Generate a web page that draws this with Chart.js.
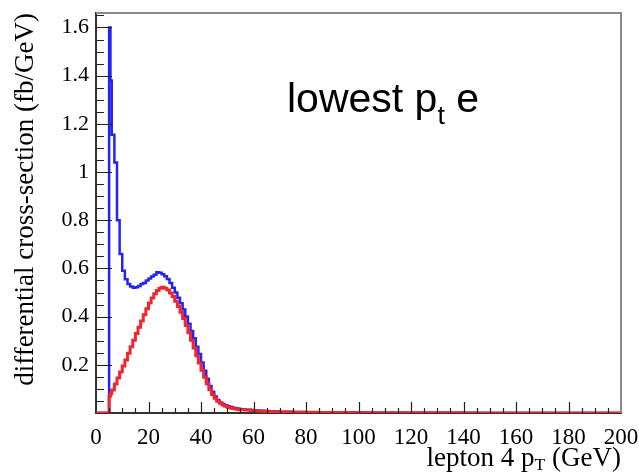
<!DOCTYPE html>
<html>
<head>
<meta charset="utf-8">
<script src="https://cdn.jsdelivr.net/npm/chart.js@4.4.1/dist/chart.umd.min.js"></script>
<style>
  html, body { margin: 0; padding: 0; background: #fff; }
  #wrap { position: relative; width: 639px; height: 476px; }
  canvas { position: absolute; left: 0; top: 0; }
  .note { position: absolute; font-family: "Liberation Sans", Arial, sans-serif; color: #000; white-space: nowrap; }
  .xt { position: absolute; font-family: "Liberation Serif", "Times New Roman", serif; color: #000; white-space: nowrap; }
  sub { font-size: 0.65em; vertical-align: baseline; position: relative; }
  .note sub { top: 0.45em; }
  .xt sub { top: 0.25em; }
</style>
</head>
<body>
<div id="wrap">
  <canvas id="c" width="639" height="476"></canvas>
  <div class="note" id="note" style="left:287px; top:77px; font-size:41px; line-height:42px;">lowest p<sub>t</sub> e</div>
  <div class="xt" id="xtitle" style="right:18px; top:442px; font-size:27px; line-height:30px;">lepton 4 p<sub>T</sub> (GeV)</div>
</div>
<script>
// bin lower edges (GeV)
const binLow = [
  0,1,2,3,4,5,5.5,6,7,8,9,10,11,12,13,14,15,16,17,18,19,
  20,21,22,23,24,25,26,27,28,29,30,31,32,33,34,35,36,37,38,39,
  40,41,42,43,44,45,46,47,48,49,50,51,52,53,54,55,56,57,58,59,
  60,61,62,63,64,65,66,67,68,69,
  70,75,80,85,90,95,100,105,110,115,120,125,130,135,140,145,150,155,160,165,170,175,180,185,190,195
];
const xMax = 200;

// blue histogram (all)
const blueValues = [
  0,0,0,0,0,1.60,1.38,1.155,1.04,0.80,
  0.66,0.59,0.555,0.535,0.525,0.52,0.522,0.527,0.535,0.54,0.55,
  0.558,0.566,0.574,0.584,0.582,0.576,0.567,0.556,0.54,0.52,
  0.50,0.478,0.455,0.43,0.40,0.37,0.34,0.31,0.275,0.245,
  0.21,0.175,0.142,0.112,0.088,0.068,0.054,0.044,0.037,0.032,
  0.028,0.025,0.022,0.02,0.018,0.016,0.015,0.014,0.013,0.012,
  0.011,0.010,0.0095,0.009,0.0085,0.008,0.0075,0.007,0.0065,0.006,
  0.0052,0.0042,0.0035,0.003,0.0025,0.0021,0.0018,0.0015,0.0013,0.0011,
  0.001,0.0009,0.0008,0.0007,0.0006,0.0005,0.0005,0.0004,0.0004,0.0003,
  0.0003,0.0003,0.0002,0.0002,0.0002,0.0002
];

// red histogram (lowest pt e)
const redValues = [
  0,0,0,0,0,0.07,0.08,0.095,0.12,0.145,0.17,
  0.195,0.22,0.248,0.275,0.302,0.33,0.356,0.382,0.408,0.433,
  0.456,0.477,0.495,0.508,0.518,0.522,0.518,0.51,0.498,0.483,
  0.464,0.442,0.418,0.392,0.363,0.333,0.302,0.27,0.238,0.207,
  0.177,0.148,0.121,0.097,0.077,0.061,0.049,0.04,0.033,0.028,
  0.024,0.021,0.019,0.017,0.015,0.014,0.013,0.012,0.011,0.010,
  0.009,0.0085,0.008,0.0075,0.007,0.0065,0.006,0.0055,0.005,0.0048,
  0.004,0.0034,0.0029,0.0025,0.0021,0.0018,0.0015,0.0013,0.0011,0.001,
  0.0009,0.0008,0.0007,0.0006,0.0005,0.0005,0.0004,0.0004,0.0003,0.0003,
  0.0003,0.0002,0.0002,0.0002,0.0002,0.0002
];

const xTickLabels = ['0','20','40','60','80','100','120','140','160','180','200'];
const yTickLabels = ['0.2','0.4','0.6','0.8','1','1.2','1.4','1.6'];

function toPoints(vals) {
  const pts = binLow.map((x, i) => ({ x: x, y: vals[i] }));
  pts.push({ x: xMax, y: vals[vals.length - 1] });
  return pts;
}

const innerTicks = {
  id: 'innerTicks',
  afterDatasetsDraw(chart) {
    const { ctx, chartArea: a, scales: { x, y } } = chart;
    ctx.save();
    // top and right frame
    ctx.strokeStyle = '#8a8a8a';
    ctx.lineWidth = 2;
    ctx.beginPath();
    ctx.moveTo(a.left, a.top); ctx.lineTo(a.right, a.top); ctx.lineTo(a.right, a.bottom);
    ctx.stroke();
    ctx.strokeStyle = '#222';
    ctx.lineWidth = 1.2;
    ctx.beginPath();
    // y ticks every 0.05
    for (let k = 1; k <= 33; k++) {
      const v = k * 0.05;
      const py = Math.round(y.getPixelForValue(v)) + 0.5;
      const len = (k % 4 === 0) ? 16 : 8;
      ctx.moveTo(a.left, py); ctx.lineTo(a.left + len, py);
    }
    // x ticks every 5
    for (let k = 1; k < 40; k++) {
      const v = k * 5;
      const px = Math.round(x.getPixelForValue(v)) + 0.5;
      const len = (k % 4 === 0) ? 11 : 5;
      ctx.moveTo(px, a.bottom); ctx.lineTo(px, a.bottom - len);
    }
    ctx.stroke();
    ctx.restore();
  }
};

new Chart(document.getElementById('c'), {
  type: 'line',
  data: {
    datasets: [
      // first dataset is drawn last (on top)
      { label: 'lowest pt e', data: toPoints(redValues), borderColor: '#f0262e', borderWidth: 3, stepped: true, pointRadius: 0, fill: false },
      { label: 'all', data: toPoints(blueValues), borderColor: '#2525f0', borderWidth: 2.5, stepped: true, pointRadius: 0, fill: false }
    ]
  },
  options: {
    responsive: false,
    animation: false,
    layout: { padding: { top: 13, right: 18, left: 0, bottom: 0 } },
    plugins: { legend: { display: false }, tooltip: { enabled: false } },
    scales: {
      x: {
        type: 'linear', min: 0, max: 200,
        afterBuildTicks: s => { s.ticks = xTickLabels.map(t => ({ value: Number(t) })); },
        ticks: { autoSkip: false, maxRotation: 0, padding: 11, color: '#000',
                 font: { family: 'Liberation Serif', size: 23 },
                 callback: (v, i) => xTickLabels[i] },
        grid: { drawOnChartArea: false, drawTicks: false },
        border: { display: true, color: '#333', width: 2 },
        afterFit: s => { s.height = 63; s.paddingLeft = 0; s.paddingRight = 0; }
      },
      y: {
        type: 'linear', min: 0, max: 1.66,
        afterBuildTicks: s => { s.ticks = yTickLabels.map(t => ({ value: Number(t) })); },
        ticks: { autoSkip: false, padding: 7, color: '#000',
                 font: { family: 'Liberation Serif', size: 22 },
                 callback: (v, i) => yTickLabels[i] },
        grid: { drawOnChartArea: false, drawTicks: false },
        border: { display: true, color: '#333', width: 2 },
        title: { display: true, text: 'differential cross-section (fb/GeV)', align: 'end', color: '#000',
                 font: { family: 'Liberation Serif', size: 27 }, padding: { top: 10, bottom: 0 } },
        afterFit: s => { s.width = 96; s.paddingTop = 0; s.paddingBottom = 0; }
      }
    }
  },
  plugins: [innerTicks]
});
</script>
</body>
</html>
